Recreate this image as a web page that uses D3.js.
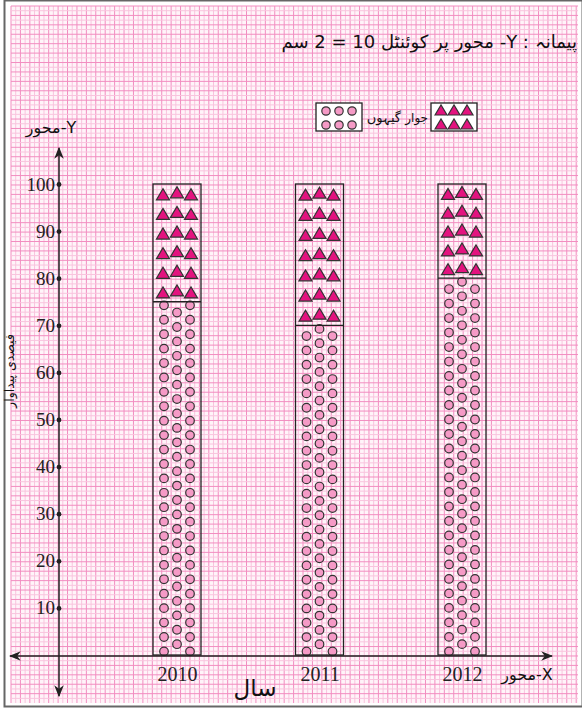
<!DOCTYPE html>
<html>
<head>
<meta charset="utf-8">
<script src="https://cdn.jsdelivr.net/npm/d3@7"></script>
<style>
  body { margin: 0; background: #fff; }
  svg { display: block; }
  .num { font-family: "Liberation Serif", "DejaVu Serif", serif; fill: #222; }
  .ur { font-family: "DejaVu Sans", "Noto Sans", sans-serif; fill: #111; }
</style>
</head>
<body>
<svg id="chart" width="582" height="711"></svg>
<script>
// data
var years = ["2010", "2011", "2012"];
var wheat = [75, 70, 80];     // گیہوں
var jowar = [25, 30, 20];     // جوار
var yTicks = [10, 20, 30, 40, 50, 60, 70, 80, 90, 100];

var titleText = "پیمانہ : Y- محور پر کوئنٹل 10 = 2 سم";
var yName = "محور-Y";
var xName = "محور-X";
var xTitle = "سال";
var yTitle = "فیصدی پیداوار";
var legendNames = ["جوار", "گیہوں"];

var svg = d3.select("#chart");

// graph paper
var gx0 = 11, gx1 = 578, gy0 = 6, gy1 = 703;
var step = 4.71;
svg.append("rect").attr("x", 4.5).attr("y", 0.5).attr("width", 578).attr("height", 706)
    .attr("fill", "#fff").attr("stroke", "#666").attr("stroke-width", 2);
svg.append("rect").attr("x", gx0).attr("y", gy0).attr("width", gx1 - gx0).attr("height", gy1 - gy0)
    .attr("fill", "#fff4f9");

var paper = svg.append("g");
var vx = d3.range(0, Math.floor((gx1 - gx0) / step) + 1);
var hy = d3.range(0, Math.floor((gy1 - gy0) / step) + 1);
paper.selectAll("line.v").data(vx).enter().append("line")
    .attr("x1", function (d) { return gx0 + d * step; })
    .attr("x2", function (d) { return gx0 + d * step; })
    .attr("y1", gy0).attr("y2", gy1)
    .attr("stroke", function (d) { return d % 2 === 0 ? "#f28dc0" : "#f9c4de"; })
    .attr("stroke-width", 1);
paper.selectAll("line.h").data(hy).enter().append("line")
    .attr("y1", function (d) { return gy0 + d * step; })
    .attr("y2", function (d) { return gy0 + d * step; })
    .attr("x1", gx0).attr("x2", gx1)
    .attr("stroke", function (d) { return d % 2 === 0 ? "#f28dc0" : "#f9c4de"; })
    .attr("stroke-width", 1);

// scales
var yScale = d3.scaleLinear().domain([0, 100]).range([655, 184]);
var xScale = d3.scalePoint().domain(years).range([177, 462]);
var barW = 48;
var axisX = 59, axisY = 656;

var defs = svg.append("defs");
defs.append("marker").attr("id", "arr").attr("viewBox", "0 0 10 10")
    .attr("refX", 9).attr("refY", 5).attr("markerWidth", 8).attr("markerHeight", 8)
    .attr("orient", "auto-start-reverse")
    .append("path").attr("d", "M0,1 L10,5 L0,9 L3,5 Z").attr("fill", "#222");

// bars
var rows = years.map(function (y, i) {
    return {year: y, wheat: wheat[i], jowar: jowar[i]};
});
var bars = svg.append("g").selectAll("g").data(rows).enter().append("g");

bars.each(function (d) {
    var g = d3.select(this);
    var cx = xScale(d.year);
    var yTop = yScale(d.wheat + d.jowar);
    var yMid = yScale(d.wheat);
    var yBot = yScale(0);

    // circles for wheat, counted from the bottom
    var hW = yBot - yMid;
    var n = Math.round(hW / 7.2);
    var s = hW / n;
    var pts = [];
    d3.range(n).forEach(function (k) {
        var cy = yBot - (k + 0.5) * s;
        if (k % 2 === 0) {
            pts.push([cx - 13, cy]);
            pts.push([cx + 13, cy]);
        } else {
            pts.push([cx, cy]);
        }
    });
    g.selectAll("circle").data(pts).enter().append("circle")
        .attr("cx", function (p) { return p[0]; })
        .attr("cy", function (p) { return p[1]; })
        .attr("r", 4.3)
        .attr("fill", "#f59ac6").attr("stroke", "#333").attr("stroke-width", 1.2);

    // triangles for jowar
    var hJ = yMid - yTop;
    var m = Math.round(hJ / 19.5);
    var t = hJ / m;
    var tri = [];
    d3.range(m).forEach(function (k) {
        var cy = yTop + (k + 0.55) * t;
        tri.push([cx - 14, cy]);
        tri.push([cx, cy - 2]);
        tri.push([cx + 14, cy]);
    });
    g.selectAll("path").data(tri).enter().append("path")
        .attr("d", function (p) {
            return "M" + (p[0] - 6.5) + "," + (p[1] + 5) + "L" + p[0] + "," + (p[1] - 6) +
                "L" + (p[0] + 6.5) + "," + (p[1] + 5) + "Z";
        })
        .attr("fill", "#e3137f").attr("stroke", "#333").attr("stroke-width", 1.2);

    g.append("rect").attr("x", cx - barW / 2).attr("y", yTop)
        .attr("width", barW).attr("height", yBot - yTop)
        .attr("fill", "none").attr("stroke", "#222").attr("stroke-width", 1.3);
    g.append("line").attr("x1", cx - barW / 2).attr("x2", cx + barW / 2)
        .attr("y1", yMid).attr("y2", yMid)
        .attr("stroke", "#222").attr("stroke-width", 1.3);
});

// axes
svg.append("line").attr("x1", 40).attr("x2", 10).attr("y1", axisY).attr("y2", axisY)
    .attr("stroke", "#222").attr("stroke-width", 1.5).attr("marker-end", "url(#arr)");
svg.append("line").attr("x1", 40).attr("x2", 552).attr("y1", axisY).attr("y2", axisY)
    .attr("stroke", "#222").attr("stroke-width", 1.5).attr("marker-end", "url(#arr)");
svg.append("line").attr("x1", axisX).attr("x2", axisX).attr("y1", axisY).attr("y2", 148)
    .attr("stroke", "#222").attr("stroke-width", 1.5).attr("marker-end", "url(#arr)");
svg.append("line").attr("x1", axisX).attr("x2", axisX).attr("y1", axisY).attr("y2", 696)
    .attr("stroke", "#222").attr("stroke-width", 1.5).attr("marker-end", "url(#arr)");

var yAxis = d3.axisLeft(yScale).tickValues(yTicks).tickSize(0).tickPadding(4);
var ya = svg.append("g").attr("transform", "translate(" + axisX + ",0)").call(yAxis);
ya.select(".domain").remove();
ya.selectAll("text").attr("class", "num").attr("font-size", 19).attr("fill", "#222");
ya.selectAll(".tick").append("circle").attr("r", 2.4).attr("fill", "#222");

var xAxis = d3.axisBottom(xScale).tickSize(0).tickPadding(0);
var xa = svg.append("g").attr("transform", "translate(0," + axisY + ")").call(xAxis);
xa.select(".domain").remove();
xa.selectAll("text").attr("class", "num").attr("font-size", 20).attr("fill", "#222")
    .attr("dy", 0).attr("y", 25);

// labels
svg.append("text").attr("class", "ur").attr("x", 577).attr("y", 48)
    .attr("direction", "rtl").attr("text-anchor", "start")
    .attr("font-size", 18).text(titleText);
svg.append("text").attr("class", "ur").attr("x", 51).attr("y", 133)
    .attr("text-anchor", "middle").attr("font-size", 16).text(yName);
svg.append("text").attr("class", "ur").attr("x", 527).attr("y", 680)
    .attr("text-anchor", "middle").attr("font-size", 16).text(xName);
svg.append("text").attr("class", "ur").attr("x", 255).attr("y", 696)
    .attr("text-anchor", "middle").attr("font-size", 23).text(xTitle);
svg.append("text").attr("class", "ur")
    .attr("transform", "translate(14,371) rotate(-90)")
    .attr("text-anchor", "middle").attr("font-size", 12.5).text(yTitle);

// legend
var legend = svg.append("g");
var leg = [{name: legendNames[0], x: 431, tx: 428, kind: "tri", fs: 12},
           {name: legendNames[1], x: 316, tx: 401, kind: "cir", fs: 13}];
leg.forEach(function (l) {
    var g = legend.append("g");
    g.append("rect").attr("x", l.x).attr("y", 103).attr("width", 46).attr("height", 28)
        .attr("fill", "#fff").attr("stroke", "#222").attr("stroke-width", 1.3);
    [0, 1].forEach(function (r) {
        [0, 1, 2].forEach(function (c) {
            var px = l.x + 10 + c * 13, py = 110 + r * 14;
            if (l.kind === "tri") {
                g.append("path")
                    .attr("d", "M" + (px - 6) + "," + (py + 5) + "L" + px + "," + (py - 5) + "L" + (px + 6) + "," + (py + 5) + "Z")
                    .attr("fill", "#e3137f").attr("stroke", "#333").attr("stroke-width", 1.2);
            } else {
                g.append("circle").attr("cx", px).attr("cy", py + 1).attr("r", 4.2)
                    .attr("fill", "#f59ac6").attr("stroke", "#333").attr("stroke-width", 1.2);
            }
        });
    });
    g.append("text").attr("class", "ur").attr("x", l.tx).attr("y", 122)
        .attr("text-anchor", "end").attr("font-size", l.fs).text(l.name);
});
</script>
</body>
</html>
